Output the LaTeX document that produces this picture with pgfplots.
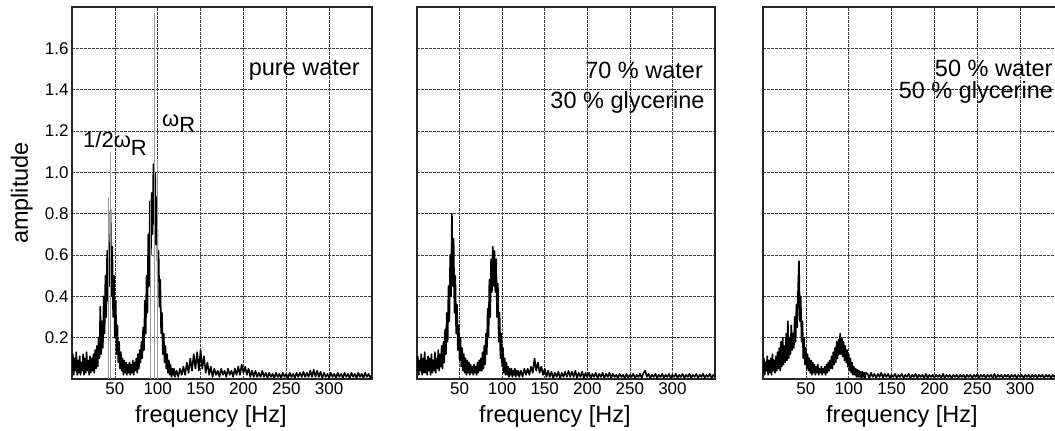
\documentclass[border=0pt]{standalone}
\usepackage{fontspec}
\setmainfont{Liberation Sans}
\usepackage{pgfplots}
\pgfplotsset{compat=1.18}

\pgfplotsset{
  spec/.style={
    scale only axis, height=372bp,
    xmin=0, xmax=350, ymin=0, ymax=1.8,
    xtick={50,100,150,200,250,300},
    ytick={0.2,0.4,0.6,0.8,1.0,1.2,1.4,1.6},
    grid=major,
    major grid style={dash pattern=on 2.5bp off 1.5bp, line width=0.6bp, black!75},
    axis line style={line width=1.6bp, black!85},
    major tick length=0pt,
    tick label style={font=\fontsize{17bp}{17bp}\selectfont},
    /pgf/number format/assume math mode=true,
    yticklabel style={/pgf/number format/fixed, /pgf/number format/fixed zerofill,
      /pgf/number format/precision=1},
    xlabel={frequency [Hz]},
    label style={font=\fontsize{23.5bp}{24bp}\selectfont},
    xlabel style={at={(axis description cs:0.463,-0.1156)}, anchor=base, inner sep=0pt},
  },
}
\tikzset{
  band/.style={black, line width=1.6bp, line join=round},
  txt/.style={anchor=base east, inner sep=0pt, font=\fontsize{23.5bp}{24bp}\selectfont},
  ann/.style={anchor=base west, inner sep=0pt, font=\fontsize{22bp}{22bp}\selectfont},
}

\begin{document}
\begin{tikzpicture}

% pure water
\begin{axis}[spec, width=300bp, at={(72bp,52bp)}, anchor=south west,
  ylabel={amplitude},
  ylabel style={at={(axis description cs:-0.147,0.5)}, anchor=base, inner sep=0pt}]
\addplot[band] coordinates {
(0,.03)(1,.12)(2,.02)(3,.10)(4,.04)(5,.13)(6,.02)(7,.09)(8,.03)(9,.11)(10,.02)(11,.08)(12,.04)(13,.12)(14,.02)(15,.10)(16,.03)(17,.13)(18,.04)(19,.09)(20,.02)
(21,.11)(22,.03)(23,.10)(24,.04)(25,.12)(26,.03)(27,.14)(28,.05)(29,.16)(30,.06)(31,.20)(32,.10)(33,.35)(34,.12)(35,.28)(36,.15)(37,.40)(38,.22)(39,.50)(40,.30)
(41,.62)(42,.38)(43,.66)(44,.45)(45,.82)(46,.40)(47,.64)(48,.30)(49,.50)(50,.20)(51,.38)(52,.12)(53,.26)(54,.08)(55,.18)(56,.05)(57,.13)(58,.04)(59,.10)(60,.02)
(61,.09)(62,.03)(63,.08)(64,.02)(65,.07)(66,.03)(67,.08)(68,.02)(69,.07)(70,.03)(71,.09)(72,.02)(73,.08)(74,.04)(75,.10)(76,.03)(77,.12)(78,.05)(79,.14)(80,.08)
(81,.18)(82,.10)(83,.25)(84,.14)(85,.38)(86,.22)(87,.50)(88,.32)(89,.70)(90,.45)(91,.86)(92,.60)(93,.90)(94,.70)(95,1.04)(96,.75)(97,1.00)(98,.65)(99,.88)(100,.50)
(101,.62)(102,.35)(103,.48)(104,.22)(105,.32)(106,.12)(107,.22)(108,.08)(109,.16)(110,.05)(111,.12)(112,.03)(113,.09)(114,.02)(115,.07)(116,.01)(117,.05)(118,.02)(119,.05)(120,.01)
(122,.04)(124,.01)(126,.05)(128,.02)(130,.06)(132,.02)(134,.08)(136,.03)(138,.10)(140,.04)(142,.12)(144,.05)(146,.13)(148,.04)(150,.14)(152,.05)(154,.11)(156,.03)(158,.08)(160,.02)
(162,.06)(164,.01)(166,.05)(168,.02)(170,.04)(172,.01)(174,.05)(176,.02)(178,.04)(180,.01)(182,.05)(184,.02)(186,.04)(188,.01)(190,.05)(192,.02)(194,.06)(196,.02)(198,.07)(200,.03)
(202,.06)(204,.02)(206,.05)(208,.01)(210,.04)(212,.01)(214,.04)(216,.01)(218,.03)(220,.01)(222,.04)(224,.01)(226,.03)(228,.005)(230,.03)(232,.01)(234,.025)(236,.005)(238,.03)(240,.01)
(242,.025)(244,.005)(246,.03)(248,.01)(250,.025)(252,.005)(254,.03)(256,.01)(258,.025)(260,.005)(262,.03)(264,.01)(266,.03)(268,.01)(270,.035)(272,.01)(274,.03)(276,.01)(278,.04)(280,.01)
(282,.045)(284,.01)(286,.04)(288,.01)(290,.035)(292,.005)(294,.03)(296,.01)(298,.025)(300,.005)(302,.03)(304,.01)(306,.025)(308,.005)(310,.03)(312,.01)(314,.025)(316,.005)(318,.03)(320,.01)
(322,.025)(324,.005)(326,.03)(328,.01)(330,.025)(332,.005)(334,.03)(336,.01)(338,.025)(340,.005)(342,.03)(344,.01)(346,.025)(348,.005)(350,.02)
};
% thin single-trace spikes
\addplot[ycomb, black!40, line width=0.7bp] coordinates {(42,0.88)(45,1.10)(91,0.87)(96,1.77)(99,1.06)};
\node[txt] at (axis cs:336,1.47) {pure water};
\node[ann] at (axis cs:12.8,1.122) {1/2ω\raisebox{-8bp}{R}};
\node[ann] at (axis cs:105,1.224) {ω\raisebox{-6bp}{R}};
\end{axis}

% 70 % water
\begin{axis}[spec, width=298bp, at={(417bp,52bp)}, anchor=south west, yticklabels={}]
\addplot[band] coordinates {
(0,.03)(1,.11)(2,.02)(3,.09)(4,.04)(5,.12)(6,.02)(7,.10)(8,.03)(9,.13)(10,.03)(11,.09)(12,.02)(13,.11)(14,.04)(15,.10)(16,.02)(17,.12)(18,.03)(19,.09)(20,.04)
(21,.13)(22,.03)(23,.10)(24,.05)(25,.14)(26,.04)(27,.12)(28,.06)(29,.16)(30,.05)(31,.18)(32,.08)(33,.24)(34,.12)(35,.32)(36,.18)(37,.45)(38,.28)(39,.60)(40,.40)
(41,.80)(42,.45)(43,.68)(44,.32)(45,.50)(46,.22)(47,.36)(48,.14)(49,.26)(50,.09)(51,.20)(52,.06)(53,.15)(54,.04)(55,.12)(56,.03)(57,.10)(58,.02)(59,.09)(60,.03)
(61,.08)(62,.02)(63,.07)(64,.03)(65,.06)(66,.02)(67,.07)(68,.03)(69,.06)(70,.02)(71,.08)(72,.03)(73,.09)(74,.04)(75,.10)(76,.04)(77,.13)(78,.05)(79,.16)(80,.07)
(81,.22)(82,.12)(83,.34)(84,.20)(85,.48)(86,.30)(87,.58)(88,.42)(89,.64)(90,.45)(91,.62)(92,.42)(93,.58)(94,.30)(95,.46)(96,.18)(97,.32)(98,.10)(99,.22)(100,.06)
(101,.15)(102,.03)(103,.10)(104,.02)(105,.08)(106,.02)(107,.06)(108,.01)(109,.05)(110,.02)(111,.05)(112,.01)(113,.04)(114,.02)(115,.05)(116,.01)(117,.04)(118,.02)(119,.04)(120,.01)
(122,.04)(124,.01)(126,.05)(128,.02)(130,.05)(132,.02)(134,.06)(136,.03)(138,.10)(140,.04)(142,.08)(144,.03)(146,.06)(148,.02)(150,.05)(152,.01)(154,.04)(156,.01)(158,.035)(160,.005)
(162,.03)(164,.01)(166,.035)(168,.005)(170,.03)(172,.01)(174,.035)(176,.01)(178,.04)(180,.01)(182,.035)(184,.01)(186,.04)(188,.005)(190,.03)(192,.01)(194,.035)(196,.005)(198,.03)(200,.01)
(202,.03)(204,.005)(206,.025)(208,.01)(210,.03)(212,.005)(214,.025)(216,.01)(218,.03)(220,.005)(222,.025)(224,.01)(226,.03)(228,.005)(230,.025)(232,.01)(234,.02)(236,.005)(238,.025)(240,.01)
(242,.02)(244,.005)(246,.025)(248,.005)(250,.02)(252,.01)(254,.025)(256,.005)(258,.02)(260,.01)(262,.025)(264,.005)(266,.03)(268,.04)(270,.01)(272,.025)(274,.005)(276,.02)(278,.01)(280,.025)
(282,.005)(284,.02)(286,.01)(288,.025)(290,.005)(292,.02)(294,.01)(296,.025)(298,.005)(300,.02)(302,.01)(304,.025)(306,.005)(308,.02)(310,.01)(312,.025)(314,.005)(316,.02)(318,.01)(320,.025)
(322,.005)(324,.02)(326,.01)(328,.025)(330,.005)(332,.02)(334,.01)(336,.025)(338,.005)(340,.02)(342,.01)(344,.025)(346,.005)(348,.02)(350,.01)
};
\node[txt] at (axis cs:336,1.455) {70 \% water};
\node[txt] at (axis cs:338,1.31) {30 \% glycerine};
\end{axis}

% 50 % water
\begin{axis}[spec, width=300bp, at={(763bp,52bp)}, anchor=south west, yticklabels={}]
\addplot[band] coordinates {
(0,.03)(1,.10)(2,.02)(3,.08)(4,.04)(5,.11)(6,.02)(7,.09)(8,.03)(9,.10)(10,.02)(11,.12)(12,.04)(13,.09)(14,.03)(15,.11)(16,.04)(17,.13)(18,.05)(19,.15)(20,.04)
(21,.18)(22,.06)(23,.20)(24,.07)(25,.16)(26,.08)(27,.22)(28,.09)(29,.28)(30,.10)(31,.20)(32,.12)(33,.26)(34,.14)(35,.22)(36,.15)(37,.30)(38,.18)(39,.36)(40,.25)
(41,.45)(42,.57)(43,.28)(44,.40)(45,.18)(46,.28)(47,.10)(48,.20)(49,.07)(50,.15)(51,.05)(52,.12)(53,.04)(54,.10)(55,.03)(56,.09)(57,.02)(58,.08)(59,.03)(60,.07)
(61,.02)(62,.06)(63,.03)(64,.07)(65,.02)(66,.05)(67,.03)(68,.06)(69,.02)(70,.05)(71,.03)(72,.06)(73,.02)(74,.07)(75,.03)(76,.08)(77,.04)(78,.09)(79,.05)(80,.11)
(81,.05)(82,.13)(83,.07)(84,.15)(85,.08)(86,.18)(87,.10)(88,.19)(89,.12)(90,.22)(91,.12)(92,.20)(93,.11)(94,.18)(95,.09)(96,.16)(97,.08)(98,.14)(99,.06)(100,.12)
(101,.04)(102,.10)(103,.03)(104,.08)(105,.02)(106,.06)(107,.02)(108,.05)(109,.01)(110,.045)(111,.01)(112,.04)(113,.01)(114,.035)(115,.005)(116,.035)(117,.01)(118,.03)(119,.005)(120,.03)
(122,.025)(124,.005)(126,.03)(128,.01)(130,.025)(132,.005)(134,.025)(136,.01)(138,.03)(140,.005)(142,.025)(144,.01)(146,.025)(148,.005)(150,.02)(152,.01)(154,.025)(156,.005)(158,.02)(160,.01)
(162,.025)(164,.005)(166,.02)(168,.01)(170,.025)(172,.005)(174,.02)(176,.01)(178,.025)(180,.005)(182,.02)(184,.01)(186,.02)(188,.005)(190,.025)(192,.005)(194,.02)(196,.01)(198,.02)(200,.005)
(202,.02)(204,.01)(206,.02)(208,.005)(210,.025)(212,.005)(214,.02)(216,.01)(218,.02)(220,.005)(222,.02)(224,.01)(226,.02)(228,.005)(230,.02)(232,.01)(234,.02)(236,.005)(238,.02)(240,.01)
(242,.02)(244,.005)(246,.02)(248,.01)(250,.025)(252,.005)(254,.02)(256,.01)(258,.02)(260,.005)(262,.02)(264,.01)(266,.02)(268,.005)(270,.025)(272,.005)(274,.02)(276,.01)(278,.02)(280,.005)
(282,.02)(284,.01)(286,.02)(288,.005)(290,.02)(292,.01)(294,.02)(296,.005)(298,.02)(300,.01)(302,.02)(304,.005)(306,.02)(308,.01)(310,.02)(312,.005)(314,.02)(316,.01)(318,.02)(320,.005)
(322,.02)(324,.01)(326,.02)(328,.005)(330,.02)(332,.01)(334,.02)(336,.005)(338,.02)(340,.01)(342,.02)(344,.005)(346,.02)(348,.01)(350,.02)
};
\node[txt] at (axis cs:338,1.465) {50 \% water};
\node[txt] at (axis cs:338.5,1.355) {50 \% glycerine};
\end{axis}

\pgfresetboundingbox
\path[use as bounding box] (0,0) rectangle (1055bp,431bp);
\end{tikzpicture}
\end{document}
